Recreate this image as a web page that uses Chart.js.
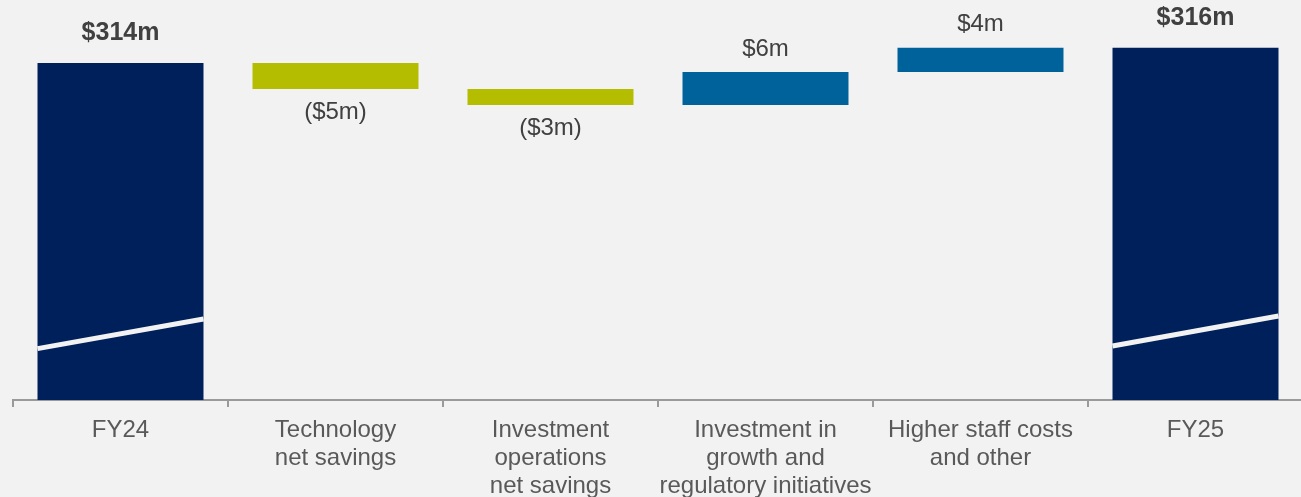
<!DOCTYPE html>
<html>
<head>
<meta charset="utf-8">
<script src="https://cdn.jsdelivr.net/npm/chart.js@4.4.1/dist/chart.umd.min.js"></script>
<style>
  html, body { margin: 0; padding: 0; background: #f2f2f2; overflow: hidden; }
  #wrap { position: absolute; left: 0; top: 0; width: 1303px; height: 497px; }
  canvas { display: block; }
</style>
</head>
<body>
<div id="wrap"><canvas id="c" width="1303" height="497"></canvas></div>
<script>
// ---- data ----
const categories = [
  ['FY24'],
  ['Technology', 'net savings'],
  ['Investment', 'operations', 'net savings'],
  ['Investment in', 'growth and', 'regulatory initiatives'],
  ['Higher staff costs', 'and other'],
  ['FY25']
];
const barStart = [250, 313.6, 308.7, 305.7, 311.9, 250];
const barEnd   = [313.6, 308.7, 305.7, 311.9, 316.5, 316.5];
const valueLabels = ['$314m', '($5m)', '($3m)', '$6m', '$4m', '$316m'];
const barKind = ['total', 'down', 'down', 'up', 'up', 'total'];
const axisMin = 250;
const axisMax = 325.5;
// axis-break marks on the total bars (value at left edge, value at right edge)
const breakLeft  = [259.7, null, null, null, null, 260.2];
const breakRight = [265.3, null, null, null, null, 265.85];

// ---- styles ----
const kindColor = { total: '#00205b', down: '#b5bd00', up: '#00629b' };
const BG = '#f2f2f2';
const FONT = "'Liberation Sans', Arial, sans-serif";

const floating = barStart.map((s, i) => [s, barEnd[i]]);

const labelPlugin = {
  id: 'wfLabels',
  afterDatasetsDraw(chart) {
    const ctx = chart.ctx;
    const meta = chart.getDatasetMeta(0);
    const yScale = chart.scales.y;
    ctx.save();
    meta.data.forEach((bar, i) => {
      const props = bar.getProps(['x', 'y', 'base', 'width'], true);
      const left = props.x - props.width / 2;
      const right = props.x + props.width / 2;
      const top = Math.min(props.y, props.base);
      const bottom = Math.max(props.y, props.base);
      if (barKind[i] === 'total' && breakLeft[i] !== null) {
        ctx.beginPath();
        ctx.strokeStyle = BG;
        ctx.lineWidth = 5;
        ctx.lineCap = 'butt';
        ctx.moveTo(left, yScale.getPixelForValue(breakLeft[i]));
        ctx.lineTo(right, yScale.getPixelForValue(breakRight[i]));
        ctx.stroke();
      }
      ctx.textAlign = 'center';
      ctx.textBaseline = 'middle';
      ctx.fillStyle = '#404040';
      if (barKind[i] === 'total') {
        ctx.font = 'bold 25px ' + FONT;
        ctx.fillText(valueLabels[i], props.x, top - 30);
      } else if (barKind[i] === 'up') {
        ctx.font = '24px ' + FONT;
        ctx.fillText(valueLabels[i], props.x, top - 23);
      } else {
        ctx.font = '24px ' + FONT;
        ctx.fillText(valueLabels[i], props.x, bottom + 23);
      }
    });
    ctx.restore();
  }
};

new Chart(document.getElementById('c'), {
  type: 'bar',
  data: {
    labels: categories,
    datasets: [{
      data: floating,
      backgroundColor: barKind.map(k => kindColor[k]),
      borderWidth: 0,
      barPercentage: 0.772,
      categoryPercentage: 1.0
    }]
  },
  options: {
    responsive: false,
    animation: false,
    devicePixelRatio: 1,
    layout: { padding: { left: 13, right: 0, top: 0, bottom: 0 } },
    plugins: { legend: { display: false }, tooltip: { enabled: false } },
    scales: {
      y: { display: false, min: axisMin, max: axisMax },
      x: {
        afterFit(scale) { scale.height = 97; },
        grid: {
          offset: true,
          drawOnChartArea: false,
          drawTicks: true,
          tickLength: 7,
          color: '#9a9a9a',
          lineWidth: 2
        },
        border: { display: true, color: '#9a9a9a', width: 2 },
        ticks: {
          color: '#595959',
          padding: 10,
          maxRotation: 0,
          autoSkip: false,
          font: { family: FONT, size: 24, lineHeight: 1.15 }
        }
      }
    }
  },
  plugins: [labelPlugin]
});
</script>
</body>
</html>
